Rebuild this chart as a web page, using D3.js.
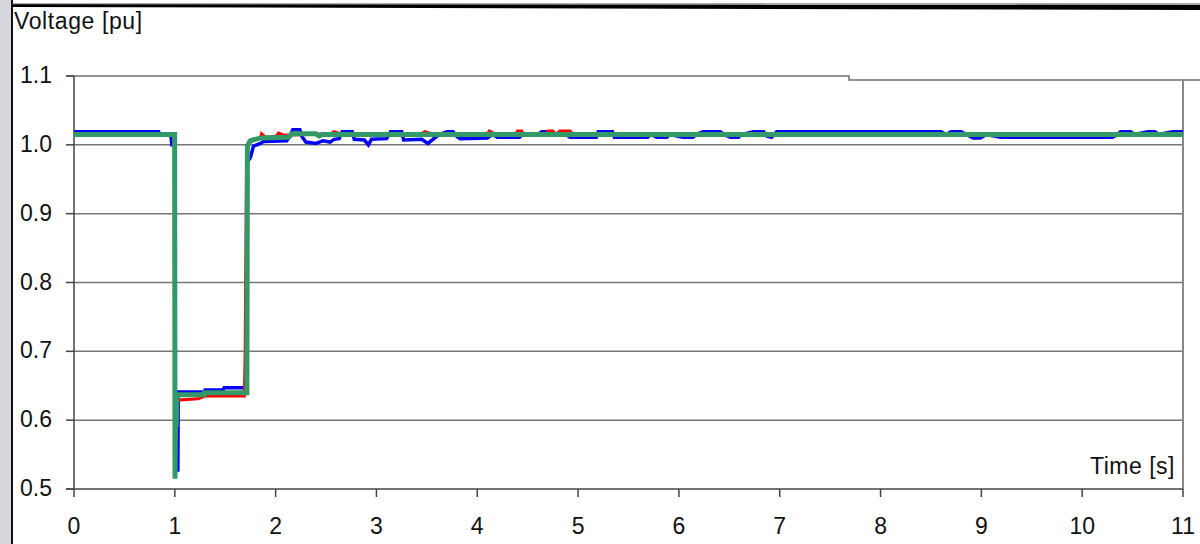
<!DOCTYPE html>
<html>
<head>
<meta charset="utf-8">
<script src="https://cdn.jsdelivr.net/npm/d3@7/dist/d3.min.js"></script>
<style>
  body { margin: 0; background: #fff; }
  svg { display: block; font-family: "Liberation Sans", Arial, sans-serif; }
</style>
</head>
<body>
<svg id="chart" width="1200" height="544"></svg>
<script>
// tick values
const xTicks = [0, 1, 2, 3, 4, 5, 6, 7, 8, 9, 10, 11];
const yTicks = [0.5, 0.6, 0.7, 0.8, 0.9, 1.0, 1.1];

// blue series (time s, voltage pu)
const blueT = [0, 0.84, 0.85, 0.96, 0.97, 1.0, 1.003, 1.028, 1.03, 1.034, 1.29, 1.3, 1.48, 1.49, 1.715,
  1.72, 1.75, 1.78, 1.85, 1.88, 2.11, 2.14, 2.17, 2.24, 2.26, 2.3, 2.4, 2.47, 2.54, 2.58, 2.63,
  2.66, 2.76, 2.78, 2.88, 2.92, 2.95, 3.1, 3.14, 3.25, 3.27, 3.45, 3.51, 3.56, 3.62, 3.7, 3.76,
  3.8, 3.83, 4.1, 4.15, 4.2, 4.42, 4.45, 4.6, 4.64, 4.72, 4.76, 4.88, 4.92, 5.18, 5.2, 5.34,
  5.36, 5.69, 5.72, 5.78, 5.88, 5.91, 6.04, 6.14, 6.17, 6.24, 6.41, 6.45, 6.51, 6.59, 6.62,
  6.74, 6.84, 6.87, 6.92, 6.97, 8.6, 8.65, 8.7, 8.8, 8.85, 8.92, 8.99, 9.05, 9.19, 10.3, 10.35,
  10.38, 10.48, 10.52, 10.65, 10.72, 10.76, 10.9, 11.0];
const blueV = [1.019, 1.019, 1.015, 1.015, 1.0, 1.0, 0.62, 0.62, 0.525, 0.641, 0.641, 0.644, 0.644, 0.647, 0.647,
  0.975, 0.982, 0.998, 1.002, 1.005, 1.006, 1.012, 1.022, 1.022, 1.012, 1.004, 1.002, 1.006, 1.004, 1.008, 1.009,
  1.019, 1.019, 1.008, 1.007, 1.0, 1.008, 1.009, 1.019, 1.019, 1.007, 1.008, 1.002, 1.008, 1.015, 1.019, 1.019,
  1.012, 1.009, 1.01, 1.015, 1.011, 1.011, 1.015, 1.015, 1.019, 1.019, 1.015, 1.015, 1.011, 1.011, 1.019, 1.019,
  1.011, 1.011, 1.015, 1.011, 1.011, 1.015, 1.011, 1.011, 1.015, 1.019, 1.019, 1.015, 1.011, 1.011, 1.015,
  1.019, 1.019, 1.013, 1.011, 1.019, 1.019, 1.015, 1.019, 1.019, 1.015, 1.01, 1.01, 1.015, 1.011, 1.011, 1.015,
  1.019, 1.019, 1.015, 1.019, 1.019, 1.015, 1.019, 1.019];

// red series
const redT = [0, 0.998, 1.003, 1.01, 1.23, 1.3, 1.69, 1.698, 1.702, 1.706, 1.712, 1.73, 1.85, 1.86, 1.9,
  2.0, 2.03, 2.08, 2.55, 2.58, 2.65, 3.45, 3.48, 3.55, 4.1, 4.12, 4.17, 4.38, 4.4, 4.44, 4.46,
  4.68, 4.7, 4.75, 4.78, 4.82, 4.92, 4.95, 11.0];
const redV = [1.015, 1.015, 0.53, 0.629, 0.631, 0.635, 0.635, 0.7, 0.8, 0.86, 0.99, 1.004, 1.01, 1.016, 1.011,
  1.012, 1.017, 1.014, 1.016, 1.019, 1.016, 1.016, 1.019, 1.016, 1.016, 1.02, 1.016, 1.016, 1.02, 1.02, 1.015,
  1.015, 1.02, 1.02, 1.015, 1.02, 1.02, 1.015, 1.015];

// green series
const greenT = [0, 0.998, 1.002, 1.006, 1.01, 1.014, 1.018, 1.025, 1.29, 1.295, 1.715, 1.72, 1.75, 1.85,
  2.13, 2.16, 2.4, 2.43, 2.47, 11.0];
const greenV = [1.015, 1.015, 0.515, 0.58, 0.62, 0.59, 0.625, 0.637, 0.637, 0.64, 0.64, 0.998, 1.006, 1.01,
  1.011, 1.016, 1.016, 1.013, 1.015, 1.015];

const svg = d3.select("#chart");
const x = d3.scaleLinear().domain([0, 11]).range([74, 1183]);
const y = d3.scaleLinear().domain([0.5, 1.1]).range([489, 76]);

// frame decorations
svg.append("rect").attr("x", 0).attr("y", 0).attr("width", 11).attr("height", 544).attr("fill", "#d5d6de");
svg.append("line").attr("x1", 12).attr("x2", 12).attr("y1", 0).attr("y2", 544)
  .attr("stroke", "#111").attr("stroke-width", 2);
svg.append("path").attr("d", "M12,4 L1200,5 L1200,10 L12,7 Z").attr("fill", "#000");
svg.append("line").attr("x1", 12).attr("x2", 1200).attr("y1", 4).attr("y2", 4)
  .attr("stroke", "#555").attr("stroke-width", 1);

// gridlines
const grid = svg.append("g");
yTicks.filter(d => d > 0.5 && d < 1.1).forEach(d => {
  grid.append("line").attr("x1", x(0)).attr("x2", x(11)).attr("y1", y(d)).attr("y2", y(d))
    .attr("stroke", "#767676").attr("stroke-width", 1.5);
});
// top line with step
grid.append("path")
  .attr("d", `M${x(0) - 8},${y(1.1)} H849 V${y(1.1) + 4} H1200`)
  .attr("fill", "none").attr("stroke", "#707070").attr("stroke-width", 1.5);
grid.append("line").attr("x1", x(11)).attr("x2", x(11)).attr("y1", y(1.1) + 4).attr("y2", y(0.5))
  .attr("stroke", "#888").attr("stroke-width", 2);

// axes
const ax = svg.append("g");
ax.append("line").attr("x1", x(0)).attr("x2", x(0)).attr("y1", y(1.1)).attr("y2", y(0.5))
  .attr("stroke", "#444").attr("stroke-width", 1.5);
ax.append("line").attr("x1", x(0) - 8).attr("x2", x(11)).attr("y1", y(0.5)).attr("y2", y(0.5))
  .attr("stroke", "#444").attr("stroke-width", 1.5);
yTicks.forEach(d => {
  ax.append("line").attr("x1", x(0) - 8).attr("x2", x(0)).attr("y1", y(d)).attr("y2", y(d))
    .attr("stroke", "#444").attr("stroke-width", 1.5);
  ax.append("text").attr("x", 52).attr("y", y(d) + 7).attr("text-anchor", "end")
    .attr("font-size", 23).attr("fill", "#111").text(d.toFixed(1));
});
xTicks.forEach(d => {
  ax.append("line").attr("x1", x(d)).attr("x2", x(d)).attr("y1", y(0.5)).attr("y2", y(0.5) + 8)
    .attr("stroke", "#444").attr("stroke-width", 1.5);
  ax.append("text").attr("x", x(d)).attr("y", 534).attr("text-anchor", "middle")
    .attr("font-size", 23).attr("fill", "#111").text(d);
});

svg.append("text").attr("x", 14).attr("y", 28.5).attr("font-size", 23)
  .attr("letter-spacing", 0.6).attr("fill", "#111").text("Voltage [pu]");
svg.append("text").attr("x", 1175).attr("y", 474).attr("font-size", 23).attr("text-anchor", "end")
  .attr("letter-spacing", 0.5).attr("fill", "#111").text("Time [s]");

// series
const line = d3.line().x(d => x(d[0])).y(d => y(d[1]));
const series = [
  { t: blueT, v: blueV, color: "#0000ff", w: 3.5 },
  { t: redT, v: redV, color: "#ff0000", w: 3 },
  { t: greenT, v: greenV, color: "#339966", w: 5 }
];
series.forEach(s => {
  svg.append("path").datum(s.t.map((t, i) => [t, s.v[i]]))
    .attr("d", line).attr("fill", "none").attr("stroke", s.color)
    .attr("stroke-width", s.w).attr("stroke-linejoin", "miter");
});
</script>
</body>
</html>
